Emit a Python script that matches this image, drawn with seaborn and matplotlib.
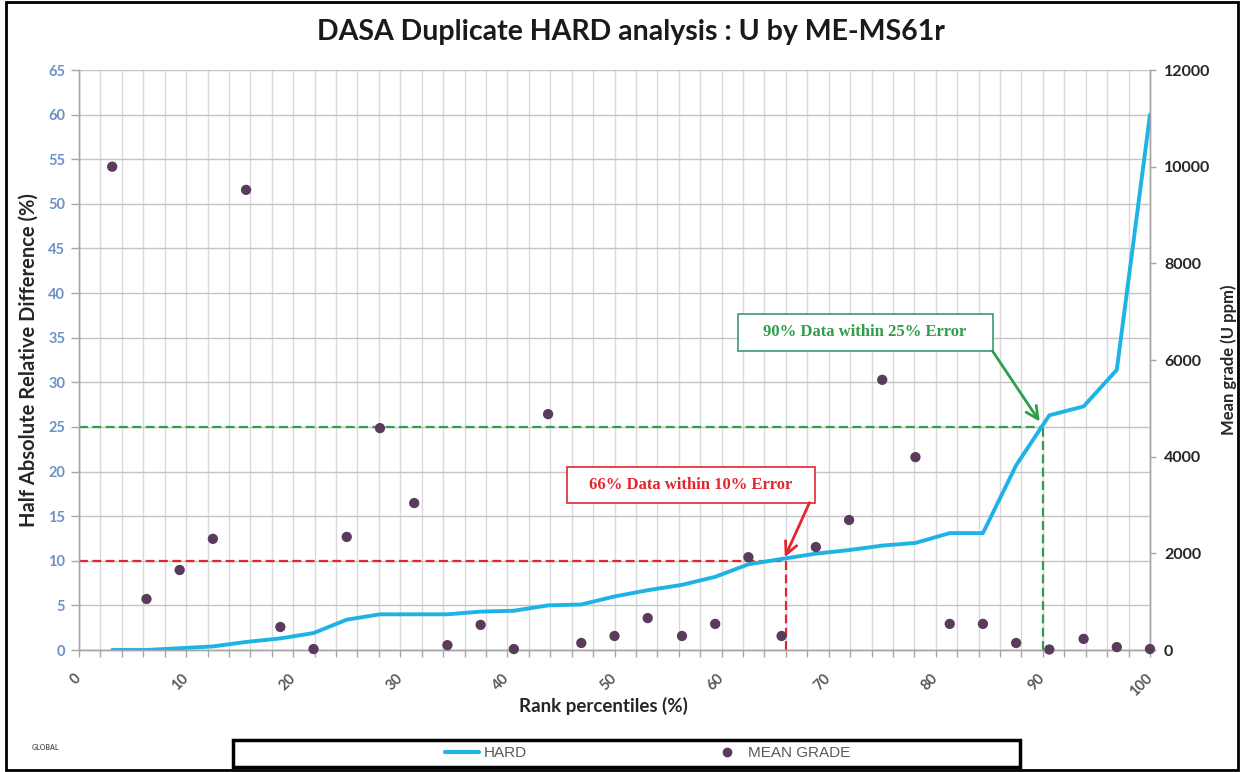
import numpy as np
import pandas as pd
import matplotlib
matplotlib.use("Agg")
import matplotlib.pyplot as plt
from matplotlib.lines import Line2D
from matplotlib.patches import Rectangle
from matplotlib.ticker import MultipleLocator
import seaborn as sns

# data
# ----------------------------
rank_pct = [3.1, 6.3, 9.4, 12.5, 15.6, 18.8, 21.9, 25.0, 28.1, 31.3, 34.4,
            37.5, 40.6, 43.8, 46.9, 50.0, 53.1, 56.3, 59.4, 62.5, 65.6, 68.8,
            71.9, 75.0, 78.1, 81.3, 84.4, 87.5, 90.6, 93.8, 96.9, 100.0]
hard = [0.0, 0.0, 0.2, 0.4, 0.9, 1.3, 1.9, 3.4, 4.0, 4.0, 4.0,
        4.3, 4.4, 5.0, 5.1, 6.0, 6.7, 7.3, 8.2, 9.6, 10.2, 10.8,
        11.2, 11.7, 12.0, 13.1, 13.1, 20.7, 26.3, 27.3, 31.4, 60.0]
mean_grade = [10000, 1055, 1655, 2300, 9520, 476, 20, 2340, 4590, 3040, 100,
              520, 20, 4880, 145, 290, 660, 290, 540, 1920, 290, 2130,
              2690, 5590, 3990, 540, 540, 145, 10, 230, 60, 20]

x_ticks = [0, 10, 20, 30, 40, 50, 60, 70, 80, 90, 100]
left_ticks = [0, 5, 10, 15, 20, 25, 30, 35, 40, 45, 50, 55, 60, 65]
right_ticks = [0, 2000, 4000, 6000, 8000, 10000, 12000]

# (rank %, error %) reference marks
cut_66 = (66, 10)
cut_90 = (90, 25)

df = pd.DataFrame({"rank": rank_pct, "HARD": hard, "MEAN GRADE": mean_grade})

BLUE = "#1fb3e5"
PURPLE = "#5b3b5c"
RED = "#e3262d"
GREEN = "#2f9e48"

sns.set_theme(style="white")
plt.rcParams["font.family"] = ["Lato", "DejaVu Sans"]

W, H = 1244, 772
fig = plt.figure(figsize=(W / 100, H / 100), dpi=100)
ax = fig.add_axes([79 / W, 122 / H, (1150 - 79) / W, 580 / H])
ax2 = ax.twinx()

sns.lineplot(data=df, x="rank", y="HARD", ax=ax, color=BLUE, linewidth=2.8, zorder=3)
sns.scatterplot(data=df, x="rank", y="MEAN GRADE", ax=ax2, color=PURPLE, s=55,
                edgecolor="none", zorder=4, clip_on=False)

ax.set_xlim(0, 100)
ax.set_ylim(0, 65)
ax2.set_ylim(0, 12000)

ax.set_xticks(x_ticks)
ax.xaxis.set_minor_locator(MultipleLocator(2))
ax.set_yticks(left_ticks)
ax2.set_yticks(right_ticks)

ax.grid(which="both", axis="x", color="#d9d9d9", lw=1, zorder=0)
ax.grid(which="major", axis="y", color="#c4c4c4", lw=1, zorder=0)
ax.set_axisbelow(True)

for a in (ax, ax2):
    a.spines["top"].set_visible(False)
    for s in ("left", "right", "bottom"):
        a.spines[s].set_color("#a6a6a6")
        a.spines[s].set_linewidth(1)

ax.tick_params(axis="y", which="major", left=True, length=6, width=1, color="#a6a6a6",
               pad=4, labelsize=10.5, labelcolor="#6b92c4")
ax.tick_params(axis="x", which="both", bottom=True, length=5, width=1, color="#a6a6a6")
ax.tick_params(axis="x", which="major", pad=14, labelsize=10.5, labelcolor="#595959")
ax2.tick_params(axis="y", right=True, length=4, width=1, color="#a6a6a6", pad=6,
                labelsize=11.5, labelcolor="#262626")
for lab in ax.get_yticklabels() + ax2.get_yticklabels():
    lab.set_fontweight("bold")
for lab in ax.get_xticklabels():
    lab.set_rotation(45)
    lab.set_ha("right")
    lab.set_va("center")
    lab.set_rotation_mode("anchor")
    lab.set_fontweight("bold")

ax.set_xlabel("Rank percentiles (%)", fontsize=13.5, fontweight="bold", color="#262626")
ax.xaxis.set_label_coords(0.49, -0.081)
ax.set_ylabel("Half Absolute Relative Difference (%)", fontsize=14.5,
              fontweight="bold", color="#262626")
ax.yaxis.set_label_coords(-0.038, 0.5)
ax2.set_ylabel("Mean grade (U ppm)", fontsize=12, fontweight="bold",
               color="#262626", rotation=90)
ax2.yaxis.set_label_coords(1.066, 0.5)

# threshold guides
for (xc, yc), col in ((cut_66, RED), (cut_90, GREEN)):
    ax.hlines(yc, 0, xc, colors=col, linestyles=(0, (4, 2)), lw=1.6, zorder=2)
    ax.vlines(xc, 0, yc, colors=col, linestyles=(0, (4, 2)), lw=1.6, zorder=2)

# annotation boxes + arrows
serif = ["Liberation Serif", "DejaVu Serif"]
ax.add_patch(Rectangle((45.6, 16.5), 23.1, 4.0, facecolor="white",
                       edgecolor=RED, lw=1.2, zorder=5))
ax.text(57.15, 18.5, "66% Data within 10% Error", ha="center", va="center",
        color=RED, fontsize=12, fontweight="bold", family=serif, zorder=6)
ax.annotate("", xy=(65.9, 10.4), xytext=(68.2, 16.5),
            arrowprops=dict(arrowstyle="->", color=RED, lw=2, mutation_scale=22,
                            shrinkA=0, shrinkB=0), zorder=6)

ax.add_patch(Rectangle((61.5, 33.5), 23.8, 4.2, facecolor="white",
                       edgecolor="#3d9a70", lw=1.2, zorder=5))
ax.text(73.4, 35.6, "90% Data within 25% Error", ha="center", va="center",
        color=GREEN, fontsize=12, fontweight="bold", family=serif, zorder=6)
ax.annotate("", xy=(89.7, 25.6), xytext=(85.3, 33.5),
            arrowprops=dict(arrowstyle="->", color=GREEN, lw=2, mutation_scale=22,
                            shrinkA=0, shrinkB=0), zorder=6)

# title
fig.text(631 / W, 1 - 32 / H, "DASA Duplicate HARD analysis : U by ME-MS61r",
         ha="center", va="center", fontsize=20.5, fontweight="bold", color="#1a1a1a")

# legend in a framed strip
handles = [Line2D([0], [0], color=BLUE, lw=3),
           Line2D([0], [0], marker="o", ls="none", color=PURPLE, markersize=6)]
fig.legend(handles, ["HARD", "MEAN GRADE"], loc="center",
           bbox_to_anchor=(648 / W, 1 - 753 / H), ncol=2, frameon=False,
           columnspacing=12, handlelength=2.2, handletextpad=0.3,
           labelcolor="#595959",
           prop={"family": ["Liberation Sans Narrow", "Liberation Sans"], "size": 11})
fig.add_artist(Rectangle((233 / W, 1 - 767 / H), (1020 - 233) / W, 27 / H,
                         fill=False, lw=2.5, ec="black", transform=fig.transFigure))

# logo placeholder
fig.text(45 / W, 1 - 747 / H, "GLOBAL", fontsize=5, fontweight="bold", color="#555555",
         ha="center", va="center")

# outer frame
fig.add_artist(Rectangle((6 / W, 2 / H), (1238 - 6) / W, (766 - 2) / H + 4 / H,
                         fill=False, lw=2, ec="black", transform=fig.transFigure))

fig.savefig("out.png", dpi=100)
